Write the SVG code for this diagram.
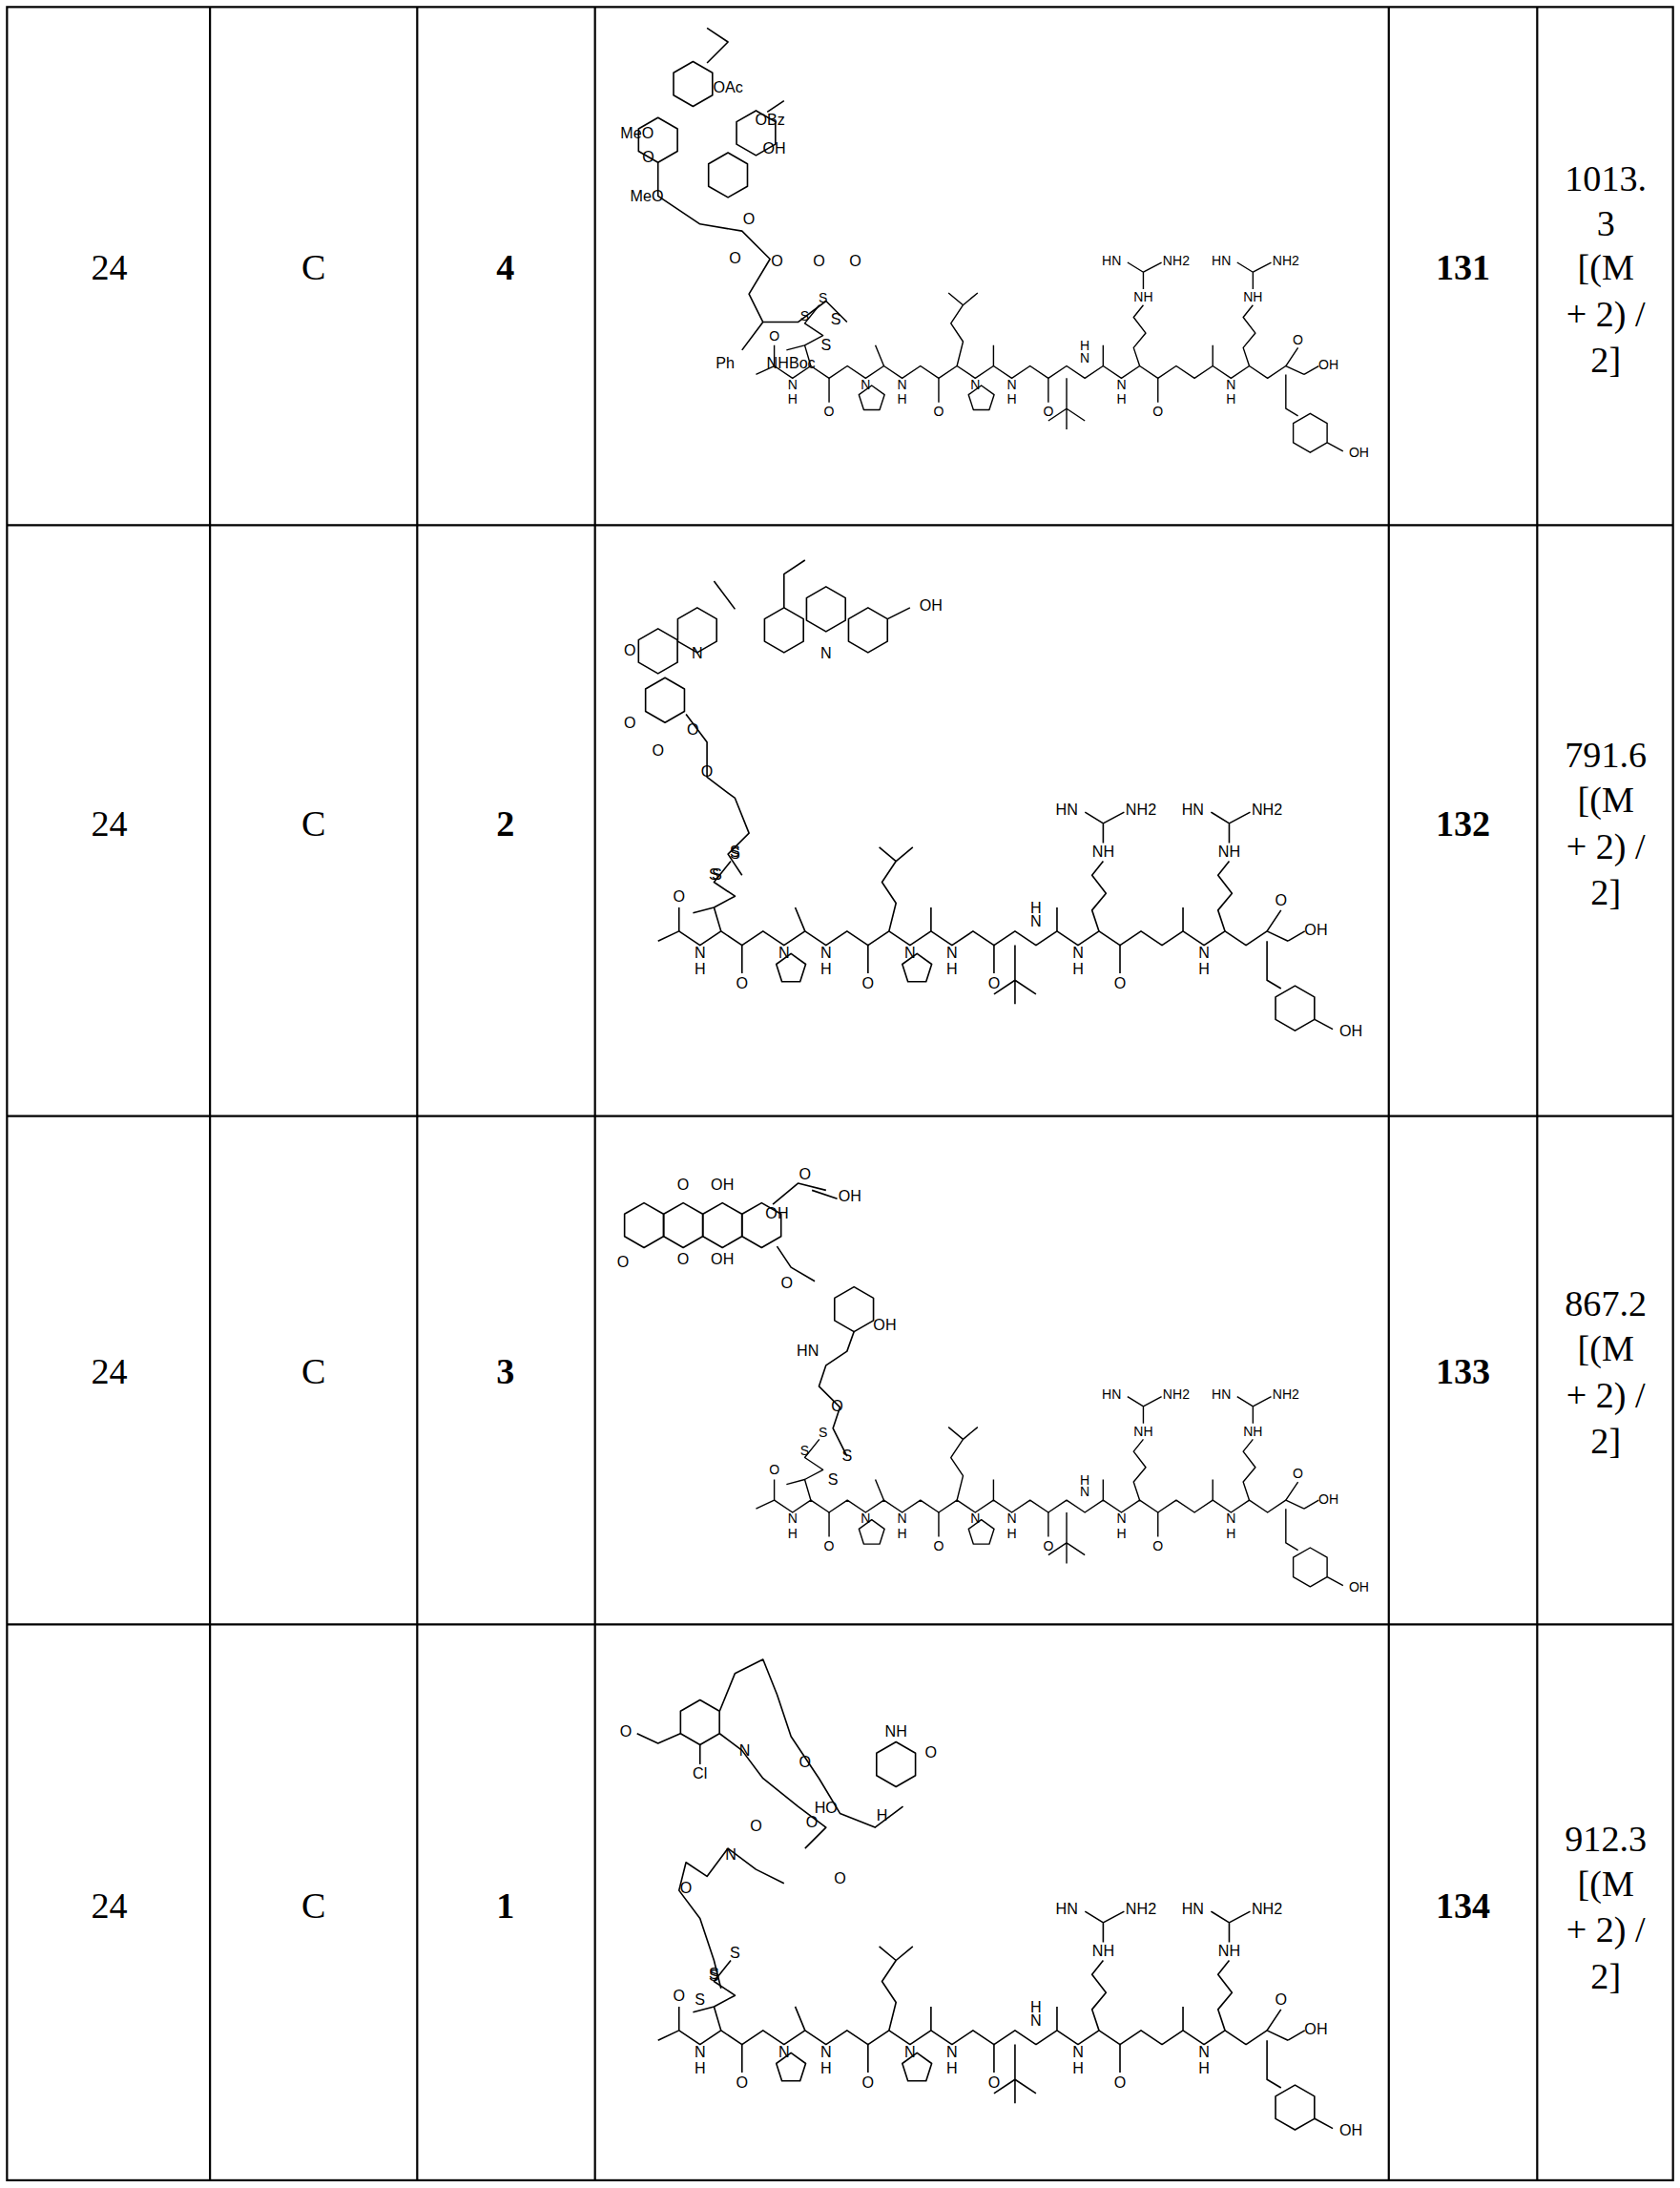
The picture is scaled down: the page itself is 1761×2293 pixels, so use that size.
<svg xmlns="http://www.w3.org/2000/svg" width="1761" height="2293" viewBox="0 0 1761 2293">
<style>
.t{font-family:"Liberation Serif","Times New Roman",serif;font-size:26px;fill:#000;text-anchor:middle}
.b{font-weight:bold}
.g{fill:none;stroke:#000;stroke-width:1.5}
.m{fill:none;stroke:#000;stroke-width:1.1;stroke-linejoin:round}
.a{font-family:"Liberation Sans",Arial,sans-serif;font-size:11px;fill:#000;text-anchor:middle}
</style>
<defs>
<polygon id="hex" class="m" points="0,-16 13.9,-8 13.9,8 0,16 -13.9,8 -13.9,-8"/>
<polygon id="pent" class="m" points="0,-11 10.5,-3.4 6.5,9 -6.5,9 -10.5,-3.4"/>
<g id="pep">
<polyline class="m" points="0,112 15,105 30,115 45,105 60,115 75,105 90,115 105,105 120,115 135,105 150,115 165,105 180,115 195,105 210,115 225,105 240,115 255,105 270,115 285,105 300,115 315,105 330,115 345,105 360,115 375,105 390,115 405,105 420,115 435,105 450,112"/>
<path class="m" d="M15,105 V88 M60,115 V135 M105,105 L98,88 M150,115 V135 M195,105 V88 M240,115 V135 M285,105 V88 M330,115 V135 M375,105 V88 M435,105 L445,90 M450,112 L462,105"/>
<text class="a" x="15" y="84">O</text><text class="a" x="60" y="146">O</text><text class="a" x="150" y="146">O</text><text class="a" x="240" y="146">O</text><text class="a" x="330" y="146">O</text><text class="a" x="445" y="87">O</text><text class="a" x="470" y="108">OH</text>
<text class="a" x="30" y="124">N</text><text class="a" x="30" y="136">H</text>
<text class="a" x="90" y="124">N</text><text class="a" x="120" y="124">N</text><text class="a" x="120" y="136">H</text>
<text class="a" x="180" y="124">N</text><text class="a" x="210" y="124">N</text><text class="a" x="210" y="136">H</text>
<text class="a" x="300" y="124">N</text><text class="a" x="300" y="136">H</text>
<text class="a" x="390" y="124">N</text><text class="a" x="390" y="136">H</text>
<text class="a" x="270" y="102">N</text><text class="a" x="270" y="92">H</text>
<use href="#pent" x="95" y="132"/><use href="#pent" x="185" y="132"/>
<path class="m" d="M45,105 L40,88 L25,92 M40,88 L55,80 L40,70 L52,55"/>
<text class="a" x="40" y="68">S</text><text class="a" x="55" y="53">S</text>
<path class="m" d="M165,105 L170,85 L160,70 L170,55 L158,45 M170,55 L182,45"/>
<path class="m" d="M255,115 L255,140 L240,150 M255,140 L270,150 M255,140 L255,157"/>
<path class="m" d="M315,105 L310,90 L320,78 L310,65 L318,55 M318,42 L318,28 M305,20 L318,28 L333,20"/>
<text class="a" x="318" y="52">NH</text><text class="a" x="292" y="22">HN</text><text class="a" x="345" y="22">NH2</text>
<path class="m" d="M405,105 L400,90 L410,78 L400,65 L408,55 M408,42 L408,28 M395,20 L408,28 L423,20"/>
<text class="a" x="408" y="52">NH</text><text class="a" x="382" y="22">HN</text><text class="a" x="435" y="22">NH2</text>
<path class="m" d="M435,112 L435,140 L445,146"/>
<use href="#hex" x="455" y="160"/>
<path class="m" d="M469,168 L482,175"/><text class="a" x="495" y="180">OH</text>
</g>
</defs>
<g transform="scale(1.4675)">
<g id="table" class="g">
<rect x="5" y="5" width="1190" height="1552"/>
<path d="M150,5 V1557 M298,5 V1557 M425,5 V1557 M992,5 V1557 M1098,5 V1557 M5,375 H1195 M5,797 H1195 M5,1160 H1195"/>
</g>
<g id="row1">
<text class="t" x="78" y="200">24</text><text class="t" x="224" y="200">C</text><text class="t b" x="361" y="200">4</text><text class="t b" x="1045" y="200">131</text>
<text class="t" x="1147" y="136">1013.</text><text class="t" x="1147" y="168">3</text><text class="t" x="1147" y="200">[(M</text><text class="t" x="1147" y="233">+ 2) /</text><text class="t" x="1147" y="266">2]</text>
<g id="payload1">
<use href="#hex" x="495" y="60"/><use href="#hex" x="470" y="100"/><use href="#hex" x="520" y="125"/><use href="#hex" x="540" y="95"/>
<path class="m" d="M470,116 L470,140 L500,160 L530,165 L550,185 L535,210 L545,230 L530,250 M545,230 L570,230 L590,215 L605,230 M505,45 L520,30 L505,20 M548,80 L560,72"/>
<text class="a" x="520" y="66">OAc</text><text class="a" x="550" y="89">OBz</text><text class="a" x="455" y="99">MeO</text><text class="a" x="553" y="110">OH</text><text class="a" x="463" y="116">O</text><text class="a" x="462" y="144">MeO</text><text class="a" x="535" y="160">O</text><text class="a" x="525" y="188">O</text><text class="a" x="555" y="190">O</text><text class="a" x="585" y="190">O</text><text class="a" x="611" y="190">O</text><text class="a" x="518" y="263">Ph</text><text class="a" x="565" y="263">NHBoc</text><text class="a" x="597" y="232">S</text><text class="a" x="590" y="250">S</text>
</g>
<use href="#pep" transform="translate(540,170) scale(0.87)"/>
</g>
<g id="row2">
<text class="t" x="78" y="597">24</text><text class="t" x="224" y="597">C</text><text class="t b" x="361" y="597">2</text><text class="t b" x="1045" y="597">132</text>
<text class="t" x="1147" y="548">791.6</text><text class="t" x="1147" y="580">[(M</text><text class="t" x="1147" y="613">+ 2) /</text><text class="t" x="1147" y="646">2]</text>
<g id="payload2">
<use href="#hex" x="470" y="465"/><use href="#hex" x="498" y="450"/><use href="#hex" x="560" y="450"/><use href="#hex" x="590" y="435"/><use href="#hex" x="620" y="450"/><use href="#hex" x="475" y="500"/>
<path class="m" d="M510,415 L525,435 M560,434 L560,410 L575,400 M634,442 L650,434 M490,510 L505,530 L505,555 L525,570 L535,595 L520,610 L530,625"/>
<text class="a" x="665" y="436">OH</text><text class="a" x="498" y="470">N</text><text class="a" x="590" y="470">N</text><text class="a" x="450" y="468">O</text><text class="a" x="450" y="520">O</text><text class="a" x="470" y="540">O</text><text class="a" x="495" y="525">O</text><text class="a" x="505" y="555">O</text><text class="a" x="525" y="612">S</text><text class="a" x="512" y="628">S</text>
</g>
<use href="#pep" transform="translate(470,560)"/>
</g>
<g id="row3">
<text class="t" x="78" y="988">24</text><text class="t" x="224" y="988">C</text><text class="t b" x="361" y="988">3</text><text class="t b" x="1045" y="988">133</text>
<text class="t" x="1147" y="940">867.2</text><text class="t" x="1147" y="972">[(M</text><text class="t" x="1147" y="1005">+ 2) /</text><text class="t" x="1147" y="1038">2]</text>
<g id="payload3">
<use href="#hex" x="460" y="875"/><use href="#hex" x="488" y="875"/><use href="#hex" x="516" y="875"/><use href="#hex" x="544" y="875"/><use href="#hex" x="610" y="935"/>
<path class="m" d="M552,860 L570,845 L590,850 M580,850 L598,856 M555,890 L565,905 L582,915 M610,951 L605,965 L590,975 L585,990 L600,1005 L595,1020 L605,1040"/>
<text class="a" x="488" y="850">O</text><text class="a" x="516" y="850">OH</text><text class="a" x="488" y="903">O</text><text class="a" x="516" y="903">OH</text><text class="a" x="445" y="905">O</text><text class="a" x="575" y="842">O</text><text class="a" x="607" y="858">OH</text><text class="a" x="555" y="870">OH</text><text class="a" x="562" y="920">O</text><text class="a" x="632" y="950">OH</text><text class="a" x="577" y="968">HN</text><text class="a" x="598" y="1008">O</text><text class="a" x="605" y="1043">S</text><text class="a" x="595" y="1060">S</text>
</g>
<use href="#pep" transform="translate(540,980) scale(0.87)"/>
</g>
<g id="row4">
<text class="t" x="78" y="1370">24</text><text class="t" x="224" y="1370">C</text><text class="t b" x="361" y="1370">1</text><text class="t b" x="1045" y="1370">134</text>
<text class="t" x="1147" y="1322">912.3</text><text class="t" x="1147" y="1354">[(M</text><text class="t" x="1147" y="1387">+ 2) /</text><text class="t" x="1147" y="1420">2]</text>
<g id="payload4">
<use href="#hex" x="500" y="1230"/><use href="#hex" x="640" y="1260"/>
<path class="m" d="M514,1222 L525,1195 L545,1185 L555,1210 L565,1240 L585,1270 L600,1295 L625,1305 L645,1290 M486,1238 L470,1245 L455,1238 M500,1246 L500,1260 M514,1238 L530,1250 L545,1270 L570,1290 L590,1305 L575,1320 M560,1345 L540,1335 L520,1320 L505,1340 L490,1330 L485,1350 L500,1370 L510,1400 L515,1420"/>
<text class="a" x="447" y="1240">O</text><text class="a" x="500" y="1270">Cl</text><text class="a" x="532" y="1254">N</text><text class="a" x="575" y="1262">O</text><text class="a" x="640" y="1240">NH</text><text class="a" x="665" y="1255">O</text><text class="a" x="590" y="1295">HO</text><text class="a" x="630" y="1300">H</text><text class="a" x="580" y="1305">O</text><text class="a" x="540" y="1308">O</text><text class="a" x="600" y="1345">O</text><text class="a" x="522" y="1328">N</text><text class="a" x="490" y="1352">O</text><text class="a" x="510" y="1415">S</text><text class="a" x="500" y="1432">S</text>
</g>
<use href="#pep" transform="translate(470,1345)"/>
</g>
</g>
</svg>
